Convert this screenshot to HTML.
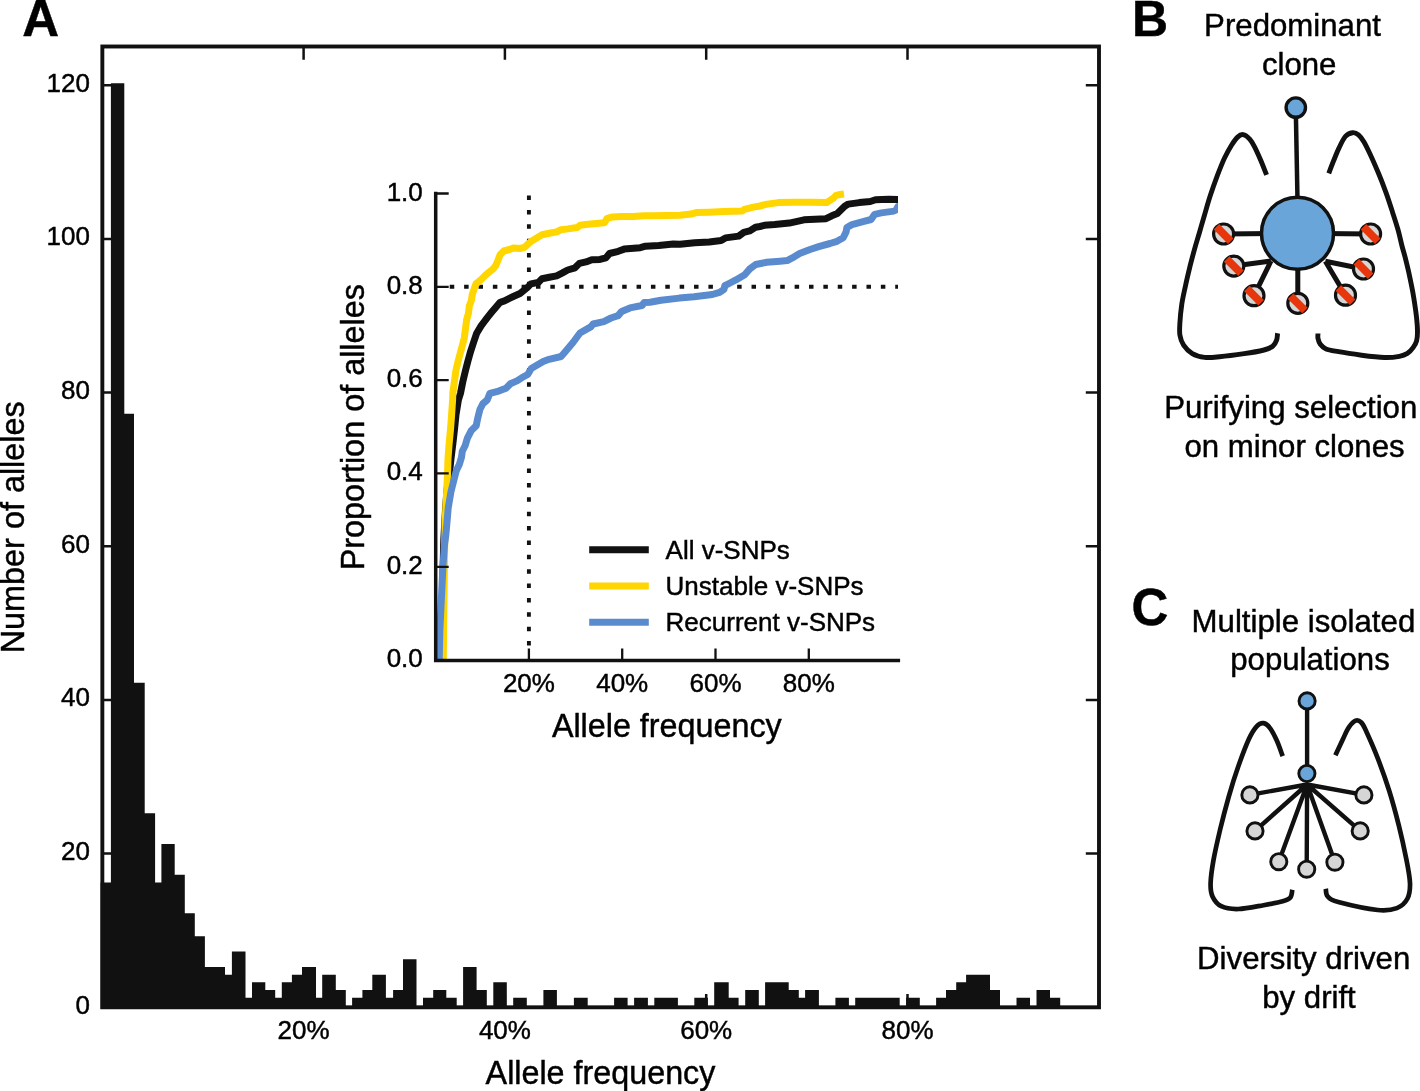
<!DOCTYPE html>
<html><head><meta charset="utf-8"><style>
html,body{margin:0;padding:0;background:#fff;}
svg{display:block;will-change:transform;}
text{font-family:"Liberation Sans", sans-serif;fill:#000;stroke:#000;stroke-width:0.45px;}
</style></head><body>
<svg width="1420" height="1091" viewBox="0 0 1420 1091">
<rect width="1420" height="1091" fill="#fff"/>
<path d="M102.35 1007.30H115.55M1099.00 1007.30H1085.80M102.35 853.62H115.55M1099.00 853.62H1085.80M102.35 699.94H115.55M1099.00 699.94H1085.80M102.35 546.26H115.55M1099.00 546.26H1085.80M102.35 392.58H115.55M1099.00 392.58H1085.80M102.35 238.90H115.55M1099.00 238.90H1085.80M102.35 85.22H115.55M1099.00 85.22H1085.80M303.60 46.50V59.70M303.60 1007.30V994.10M504.90 46.50V59.70M504.90 1007.30V994.10M706.20 46.50V59.70M706.20 1007.30V994.10M907.50 46.50V59.70M907.50 1007.30V994.10" stroke="#111111" stroke-width="2.5" fill="none"/>
<path d="M100.60 882.44H110.90V1009.1H100.60ZM110.90 83.20H124.30V1009.1H110.90ZM124.30 413.65H134.00V1009.1H124.30ZM134.00 682.63H144.70V1009.1H134.00ZM144.70 813.27H155.10V1009.1H144.70ZM155.10 882.44H161.40V1009.1H155.10ZM161.40 844.01H174.70V1009.1H161.40ZM174.70 874.75H184.80V1009.1H174.70ZM184.80 913.18H194.80V1009.1H184.80ZM194.80 936.24H204.90V1009.1H194.80ZM204.90 966.98H225.00V1009.1H204.90ZM225.00 974.66H231.90V1009.1H225.00ZM231.90 951.61H245.50V1009.1H231.90ZM245.50 997.72H252.00V1009.1H245.50ZM252.00 982.35H265.30V1009.1H252.00ZM265.30 990.03H275.20V1009.1H265.30ZM275.20 997.72H281.80V1009.1H275.20ZM281.80 982.35H291.90V1009.1H281.80ZM291.90 974.66H302.00V1009.1H291.90ZM302.00 966.98H316.00V1009.1H302.00ZM316.00 997.72H322.20V1009.1H316.00ZM322.20 974.66H335.80V1009.1H322.20ZM335.80 990.03H345.80V1009.1H335.80ZM352.10 997.72H362.40V1009.1H352.10ZM362.40 990.03H372.30V1009.1H362.40ZM372.30 974.66H385.90V1009.1H372.30ZM385.90 997.72H393.10V1009.1H385.90ZM393.10 990.03H403.00V1009.1H393.10ZM403.00 959.29H416.50V1009.1H403.00ZM423.00 997.72H433.20V1009.1H423.00ZM433.20 990.03H446.30V1009.1H433.20ZM446.30 997.72H456.70V1009.1H446.30ZM463.10 966.98H476.60V1009.1H463.10ZM476.60 990.03H486.80V1009.1H476.60ZM493.30 982.35H506.80V1009.1H493.30ZM513.20 997.72H526.80V1009.1H513.20ZM543.40 990.03H556.90V1009.1H543.40ZM573.90 997.72H587.70V1009.1H573.90ZM614.10 997.72H627.60V1009.1H614.10ZM634.10 997.72H647.90V1009.1H634.10ZM654.30 997.72H677.90V1009.1H654.30ZM694.30 997.72H707.90V1009.1H694.30ZM714.20 982.35H728.70V1009.1H714.20ZM728.70 997.72H738.60V1009.1H728.70ZM745.20 990.03H758.80V1009.1H745.20ZM765.10 982.35H788.70V1009.1H765.10ZM788.70 990.03H798.80V1009.1H788.70ZM798.80 997.72H805.10V1009.1H798.80ZM805.10 990.03H818.90V1009.1H805.10ZM835.40 997.72H848.90V1009.1H835.40ZM855.20 997.72H899.70V1009.1H855.20ZM906.10 997.72H919.80V1009.1H906.10ZM936.10 997.72H946.00V1009.1H936.10ZM946.00 990.03H956.20V1009.1H946.00ZM956.20 982.35H966.10V1009.1H956.20ZM966.10 974.66H990.00V1009.1H966.10ZM990.00 990.03H1000.00V1009.1H990.00ZM1016.50 997.72H1030.00V1009.1H1016.50ZM1036.50 990.03H1050.00V1009.1H1036.50ZM1050.00 997.72H1060.20V1009.1H1050.00Z" fill="#111111"/>
<rect x="102.35" y="46.50" width="996.65" height="960.80" fill="none" stroke="#111111" stroke-width="3.9"/>
<text x="89.90" y="1013.70" font-size="26" text-anchor="end" font-weight="normal" >0</text>
<text x="89.90" y="860.02" font-size="26" text-anchor="end" font-weight="normal" >20</text>
<text x="89.90" y="706.34" font-size="26" text-anchor="end" font-weight="normal" >40</text>
<text x="89.90" y="552.66" font-size="26" text-anchor="end" font-weight="normal" >60</text>
<text x="89.90" y="398.98" font-size="26" text-anchor="end" font-weight="normal" >80</text>
<text x="89.90" y="245.30" font-size="26" text-anchor="end" font-weight="normal" >100</text>
<text x="89.90" y="91.62" font-size="26" text-anchor="end" font-weight="normal" >120</text>
<text x="303.60" y="1039.40" font-size="26" text-anchor="middle" font-weight="normal" >20%</text>
<text x="504.90" y="1039.40" font-size="26" text-anchor="middle" font-weight="normal" >40%</text>
<text x="706.20" y="1039.40" font-size="26" text-anchor="middle" font-weight="normal" >60%</text>
<text x="907.50" y="1039.40" font-size="26" text-anchor="middle" font-weight="normal" >80%</text>
<text x="485.60" y="1084.20" font-size="32.3" text-anchor="start" font-weight="normal" >Allele frequency</text>
<text transform="translate(24.2 653.3) rotate(-90)" font-size="32.4">Number of alleles</text>
<text x="22.3" y="35.8" font-size="51" font-weight="bold">A</text>
<defs><clipPath id="iclip"><rect x="434" y="150" width="463.9" height="515"/></clipPath></defs>
<path d="M526.95 195.55h3.9v4.5h-3.9ZM526.95 209.92h3.9v4.5h-3.9ZM526.95 224.29h3.9v4.5h-3.9ZM526.95 238.66h3.9v4.5h-3.9ZM526.95 253.03h3.9v4.5h-3.9ZM526.95 267.40h3.9v4.5h-3.9ZM526.95 281.77h3.9v4.5h-3.9ZM526.95 296.14h3.9v4.5h-3.9ZM526.95 310.51h3.9v4.5h-3.9ZM526.95 324.88h3.9v4.5h-3.9ZM526.95 339.25h3.9v4.5h-3.9ZM526.95 353.62h3.9v4.5h-3.9ZM526.95 367.99h3.9v4.5h-3.9ZM526.95 382.36h3.9v4.5h-3.9ZM526.95 396.73h3.9v4.5h-3.9ZM526.95 411.10h3.9v4.5h-3.9ZM526.95 425.47h3.9v4.5h-3.9ZM526.95 439.84h3.9v4.5h-3.9ZM526.95 454.21h3.9v4.5h-3.9ZM526.95 468.58h3.9v4.5h-3.9ZM526.95 482.95h3.9v4.5h-3.9ZM526.95 497.32h3.9v4.5h-3.9ZM526.95 511.69h3.9v4.5h-3.9ZM526.95 526.06h3.9v4.5h-3.9ZM526.95 540.43h3.9v4.5h-3.9ZM526.95 554.80h3.9v4.5h-3.9ZM526.95 569.17h3.9v4.5h-3.9ZM526.95 583.54h3.9v4.5h-3.9ZM526.95 597.91h3.9v4.5h-3.9ZM526.95 612.28h3.9v4.5h-3.9ZM526.95 626.65h3.9v4.5h-3.9ZM526.95 641.02h3.9v4.5h-3.9ZM449.75 284.87h4.5v3.9h-4.5ZM464.12 284.87h4.5v3.9h-4.5ZM478.49 284.87h4.5v3.9h-4.5ZM492.86 284.87h4.5v3.9h-4.5ZM507.23 284.87h4.5v3.9h-4.5ZM521.60 284.87h4.5v3.9h-4.5ZM535.97 284.87h4.5v3.9h-4.5ZM550.34 284.87h4.5v3.9h-4.5ZM564.71 284.87h4.5v3.9h-4.5ZM579.08 284.87h4.5v3.9h-4.5ZM593.45 284.87h4.5v3.9h-4.5ZM607.82 284.87h4.5v3.9h-4.5ZM622.19 284.87h4.5v3.9h-4.5ZM636.56 284.87h4.5v3.9h-4.5ZM650.93 284.87h4.5v3.9h-4.5ZM665.30 284.87h4.5v3.9h-4.5ZM679.67 284.87h4.5v3.9h-4.5ZM694.04 284.87h4.5v3.9h-4.5ZM708.41 284.87h4.5v3.9h-4.5ZM722.78 284.87h4.5v3.9h-4.5ZM737.15 284.87h4.5v3.9h-4.5ZM751.52 284.87h4.5v3.9h-4.5ZM765.89 284.87h4.5v3.9h-4.5ZM780.26 284.87h4.5v3.9h-4.5ZM794.63 284.87h4.5v3.9h-4.5ZM809.00 284.87h4.5v3.9h-4.5ZM823.37 284.87h4.5v3.9h-4.5ZM837.74 284.87h4.5v3.9h-4.5ZM852.11 284.87h4.5v3.9h-4.5ZM866.48 284.87h4.5v3.9h-4.5ZM880.85 284.87h4.5v3.9h-4.5ZM895.22 284.87h4.5v3.9h-4.5Z" fill="#111111" clip-path="url(#iclip)"/>
<g clip-path="url(#iclip)">
<polyline points="441.5,659.5 442.0,620.0 442.8,580.0 443.8,540.0 445.5,510.0 447.0,490.0 448.3,480.0 449.5,473.0 451.0,458.7 452.8,444.0 454.5,429.3 456.0,414.7 458.4,400.0 460.5,393.3 462.7,382.3 465.3,371.3 467.9,361.1 470.8,350.8 473.7,342.0 476.7,333.2 481.1,325.9 485.5,320.0 488.5,316.2 492.0,311.8 495.7,307.4 500.1,302.3 504.5,300.9 510.4,297.9 513.3,296.5 520.0,293.5 527.3,287.6 531.0,283.9 538.3,282.4 542.0,278.8 549.3,277.3 556.7,275.9 562.5,272.9 567.7,270.0 575.0,267.8 579.4,263.4 586.0,261.9 591.8,259.7 600.0,259.4 605.9,257.9 609.5,253.5 618.3,251.3 624.2,249.1 640.3,247.7 645.5,246.2 658.7,245.5 673.3,244.0 680.0,244.3 694.7,242.7 709.3,241.9 721.1,240.5 725.5,237.9 738.7,236.1 743.8,232.4 749.6,230.9 755.5,227.3 760.0,226.5 764.4,225.3 774.7,224.6 789.3,223.1 804.0,219.8 826.0,218.7 831.8,215.8 837.3,213.6 844.7,206.3 848.3,204.1 859.3,202.6 870.3,201.5 875.5,199.7 888.7,199.3 905.0,199.5" fill="none" stroke="#111111" stroke-width="7.0" stroke-linejoin="round" stroke-linecap="butt"/>
<polyline points="443.3,659.5 443.6,630.0 444.0,600.0 444.4,567.0 444.8,540.0 445.0,524.5 445.8,508.0 446.7,491.5 447.5,475.0 448.0,458.7 449.1,444.0 450.5,429.3 451.6,414.7 452.6,400.0 452.8,393.3 454.3,382.3 455.8,371.3 458.3,360.3 461.3,349.3 464.2,338.3 465.7,327.3 466.6,320.0 468.6,312.6 469.3,306.0 471.5,300.1 472.3,294.3 474.1,289.1 475.9,284.0 481.1,279.6 486.2,274.5 492.8,269.3 495.7,265.7 497.9,260.5 500.1,254.7 503.8,251.0 509.6,249.5 513.3,248.1 520.0,248.5 524.4,247.3 531.0,241.4 538.3,237.0 542.0,234.8 549.3,233.3 556.7,231.9 561.1,229.7 567.7,228.9 577.2,227.5 580.1,225.3 586.0,224.5 593.3,223.8 604.4,222.7 607.3,218.3 612.5,216.9 622.0,216.5 633.0,216.5 644.0,215.8 651.3,215.8 666.0,215.4 680.0,215.3 691.0,214.1 696.1,212.6 709.3,212.2 724.0,211.5 742.3,211.1 744.5,209.3 753.3,207.1 760.0,206.0 767.3,204.1 778.3,202.6 795.2,202.2 811.3,202.2 826.7,202.6 833.3,198.2 836.2,195.3 840.0,194.5 844.0,194.0" fill="none" stroke="#FFD600" stroke-width="7.0" stroke-linejoin="round" stroke-linecap="butt"/>
<polyline points="439.2,659.5 439.9,629.0 441.1,604.3 442.9,567.1 444.5,545.0 445.8,535.0 446.8,524.5 448.2,508.0 451.0,491.5 455.2,475.0 456.4,470.4 459.3,464.5 461.5,457.2 462.3,451.3 465.2,445.5 467.4,438.1 471.1,430.8 476.2,425.7 477.7,418.3 479.9,409.5 482.8,403.7 487.2,400.0 489.9,393.3 498.7,391.1 506.0,388.2 510.4,383.8 517.0,380.9 521.7,377.8 527.7,374.5 531.3,368.5 537.2,365.0 543.2,361.5 549.1,359.3 561.1,356.5 564.6,352.5 573.0,342.5 580.0,333.0 590.7,326.9 593.1,324.0 603.8,321.6 611.0,318.0 618.1,315.6 621.7,311.4 630.0,307.9 642.0,305.5 644.3,302.5 650.0,302.3 661.0,300.3 679.3,298.1 694.0,296.7 712.3,294.5 719.6,292.3 724.0,289.3 724.8,285.7 730.0,283.0 735.9,279.9 744.7,274.7 749.8,268.9 755.7,264.5 766.7,262.3 780.0,261.3 787.2,260.6 792.3,257.9 799.6,253.5 810.0,249.5 818.7,246.6 830.0,243.5 837.0,241.3 843.2,237.8 846.1,231.9 846.9,227.5 852.0,224.6 863.0,221.7 871.1,219.5 874.7,214.3 881.3,212.9 892.3,211.4 896.0,209.9 898.0,206.5 905.0,205.0" fill="none" stroke="#5A8BCF" stroke-width="7.0" stroke-linejoin="round" stroke-linecap="butt"/>
</g>
<path d="M435.70 191.80V660.40H900.1" stroke="#111111" stroke-width="3.5" fill="none"/>
<path d="M435.70 660.10H448.70M435.70 566.78H448.70M435.70 473.46H448.70M435.70 380.14H448.70M435.70 286.82H448.70M435.70 193.50H448.70M528.90 660.40V648.40M622.20 660.40V648.40M715.50 660.40V648.40M808.80 660.40V648.40" stroke="#111111" stroke-width="2.3" fill="none"/>
<text x="422.80" y="667.10" font-size="26" text-anchor="end" font-weight="normal" >0.0</text>
<text x="422.80" y="573.78" font-size="26" text-anchor="end" font-weight="normal" >0.2</text>
<text x="422.80" y="480.46" font-size="26" text-anchor="end" font-weight="normal" >0.4</text>
<text x="422.80" y="387.14" font-size="26" text-anchor="end" font-weight="normal" >0.6</text>
<text x="422.80" y="293.82" font-size="26" text-anchor="end" font-weight="normal" >0.8</text>
<text x="422.80" y="200.50" font-size="26" text-anchor="end" font-weight="normal" >1.0</text>
<text x="528.90" y="692.20" font-size="26" text-anchor="middle" font-weight="normal" >20%</text>
<text x="622.20" y="692.20" font-size="26" text-anchor="middle" font-weight="normal" >40%</text>
<text x="715.50" y="692.20" font-size="26" text-anchor="middle" font-weight="normal" >60%</text>
<text x="808.80" y="692.20" font-size="26" text-anchor="middle" font-weight="normal" >80%</text>
<text x="551.90" y="737.40" font-size="32.3" text-anchor="start" font-weight="normal" >Allele frequency</text>
<text transform="translate(363.9 570.3) rotate(-90)" font-size="32.4">Proportion of alleles</text>
<path d="M589.2 549.70H648.8" stroke="#111111" stroke-width="7"/>
<text x="665.60" y="558.80" font-size="26" text-anchor="start" font-weight="normal" >All v-SNPs</text>
<path d="M589.2 585.95H648.8" stroke="#FFD600" stroke-width="7"/>
<text x="665.60" y="595.05" font-size="26" text-anchor="start" font-weight="normal" >Unstable v-SNPs</text>
<path d="M589.2 622.20H648.8" stroke="#5A8BCF" stroke-width="7"/>
<text x="665.60" y="631.30" font-size="26" text-anchor="start" font-weight="normal" >Recurrent v-SNPs</text>
<text x="1131.9" y="35.9" font-size="50" font-weight="bold">B</text>
<text x="1204.10" y="36.40" font-size="31.2" text-anchor="start" font-weight="normal" >Predominant</text>
<text x="1261.90" y="74.50" font-size="31.2" text-anchor="start" font-weight="normal" >clone</text>
<text x="1164.20" y="417.60" font-size="31.2" text-anchor="start" font-weight="normal" >Purifying selection</text>
<text x="1184.50" y="456.60" font-size="31.2" text-anchor="start" font-weight="normal" >on minor clones</text>
<path d="M1266.6,174.9 C1265.6,172.5 1262.7,164.9 1260.7,160.3 C1258.7,155.7 1256.5,150.7 1254.7,147.2 C1252.9,143.7 1251.6,141.2 1249.7,139.1 C1247.8,137.0 1245.1,134.9 1243.1,134.6 C1241.1,134.3 1239.5,135.3 1237.6,137.1 C1235.7,138.9 1233.7,141.7 1231.5,145.2 C1229.3,148.7 1226.8,153.3 1224.4,158.3 C1222.1,163.3 1219.8,169.2 1217.4,175.4 C1215.1,181.6 1212.5,188.9 1210.3,195.6 C1208.1,202.3 1206.1,209.6 1204.3,215.7 C1202.5,221.8 1201.2,226.5 1199.6,232.0 C1198.0,237.5 1196.3,242.8 1194.7,248.6 C1193.1,254.4 1191.3,260.9 1189.8,267.1 C1188.3,273.3 1186.8,279.5 1185.5,285.7 C1184.2,291.9 1182.7,298.0 1181.8,304.2 C1180.9,310.4 1180.2,317.6 1179.9,322.8 C1179.6,328.0 1179.3,331.5 1179.9,335.2 C1180.5,338.9 1181.5,342.0 1183.6,345.1 C1185.7,348.2 1188.8,351.6 1192.3,353.7 C1195.8,355.8 1200.1,356.9 1204.6,357.4 C1209.1,357.9 1212.9,357.4 1219.5,356.8 C1226.1,356.2 1236.8,354.8 1244.2,353.7 C1251.6,352.6 1259.2,351.2 1264.0,350.0 C1268.8,348.8 1270.6,347.9 1272.7,346.3 C1274.8,344.7 1275.8,342.3 1276.6,340.1 C1277.4,337.9 1277.4,334.4 1277.6,333.3" fill="none" stroke="#111111" stroke-width="4.9"/>
<path d="M1328.8,173.4 C1329.5,171.5 1331.5,165.9 1333.2,161.8 C1334.9,157.7 1336.7,152.8 1338.7,148.6 C1340.7,144.4 1343.0,139.2 1345.3,136.5 C1347.6,133.8 1350.3,133.0 1352.5,132.7 C1354.7,132.4 1356.6,133.3 1358.5,134.9 C1360.4,136.5 1362.0,138.6 1364.0,142.0 C1366.0,145.4 1368.2,150.1 1370.6,155.2 C1373.0,160.3 1375.7,166.6 1378.3,172.8 C1380.9,179.0 1383.6,186.0 1386.0,192.6 C1388.4,199.2 1390.6,206.2 1392.6,212.4 C1394.6,218.6 1396.5,224.4 1398.1,230.0 C1399.7,235.6 1400.8,241.5 1402.0,246.0 C1403.2,250.5 1403.8,252.1 1405.1,257.2 C1406.4,262.3 1408.3,270.0 1409.7,276.7 C1411.1,283.4 1412.6,290.4 1413.7,297.3 C1414.8,304.2 1416.0,312.2 1416.6,317.9 C1417.2,323.6 1417.5,327.9 1417.5,331.7 C1417.5,335.5 1417.3,338.1 1416.6,340.8 C1415.9,343.5 1414.6,345.6 1413.1,347.7 C1411.6,349.8 1409.7,352.0 1407.4,353.4 C1405.1,354.8 1403.2,355.6 1399.4,356.3 C1395.6,357.0 1390.8,357.7 1384.5,357.5 C1378.2,357.3 1369.2,356.2 1361.6,355.2 C1353.9,354.2 1344.5,352.8 1338.6,351.7 C1332.7,350.6 1329.0,350.1 1326.0,348.9 C1323.0,347.7 1321.6,346.0 1320.3,344.3 C1319.0,342.6 1318.4,340.3 1318.0,338.5 C1317.6,336.7 1318.0,334.2 1318.0,333.4" fill="none" stroke="#111111" stroke-width="4.9"/>
<path d="M1295.8 110 L1297.5 200" stroke="#111111" stroke-width="4.5"/>
<path d="M1297.5 233.3L1223.6 234M1271 261L1233.8 266.1M1271 261L1254 295.7M1297.8 260L1297.8 303.3M1325.3 261.3L1345.5 295.2M1325.3 261.3L1363.5 269M1297.5 233.3L1370.6 234" stroke="#111111" stroke-width="5"/>
<circle cx="1295.8" cy="107.6" r="9.7" fill="#69A5D8" stroke="#111111" stroke-width="3.4"/>
<circle cx="1297.5" cy="233.3" r="36.0" fill="#69A5D8" stroke="#111111" stroke-width="3.5"/>
<circle cx="1223.6" cy="234" r="10.0" fill="#D6D6D6" stroke="#111111" stroke-width="3.2"/>
<rect x="1213.50" y="230.10" width="20.2" height="7.8" fill="#E8360C" transform="rotate(45 1223.6 234)"/>
<circle cx="1233.8" cy="266.1" r="10.0" fill="#D6D6D6" stroke="#111111" stroke-width="3.2"/>
<rect x="1223.70" y="262.20" width="20.2" height="7.8" fill="#E8360C" transform="rotate(45 1233.8 266.1)"/>
<circle cx="1254" cy="295.7" r="10.0" fill="#D6D6D6" stroke="#111111" stroke-width="3.2"/>
<rect x="1243.90" y="291.80" width="20.2" height="7.8" fill="#E8360C" transform="rotate(45 1254 295.7)"/>
<circle cx="1297.8" cy="303.3" r="10.0" fill="#D6D6D6" stroke="#111111" stroke-width="3.2"/>
<rect x="1287.70" y="299.40" width="20.2" height="7.8" fill="#E8360C" transform="rotate(45 1297.8 303.3)"/>
<circle cx="1345.5" cy="295.2" r="10.0" fill="#D6D6D6" stroke="#111111" stroke-width="3.2"/>
<rect x="1335.40" y="291.30" width="20.2" height="7.8" fill="#E8360C" transform="rotate(45 1345.5 295.2)"/>
<circle cx="1363.5" cy="269" r="10.0" fill="#D6D6D6" stroke="#111111" stroke-width="3.2"/>
<rect x="1353.40" y="265.10" width="20.2" height="7.8" fill="#E8360C" transform="rotate(45 1363.5 269)"/>
<circle cx="1370.6" cy="234" r="10.0" fill="#D6D6D6" stroke="#111111" stroke-width="3.2"/>
<rect x="1360.50" y="230.10" width="20.2" height="7.8" fill="#E8360C" transform="rotate(45 1370.6 234)"/>
<text x="1131.5" y="625" font-size="51" font-weight="bold">C</text>
<text x="1191.60" y="632.30" font-size="31.2" text-anchor="start" font-weight="normal" >Multiple isolated</text>
<text x="1230.20" y="669.50" font-size="31.2" text-anchor="start" font-weight="normal" >populations</text>
<text x="1197.10" y="969.10" font-size="31.2" text-anchor="start" font-weight="normal" >Diversity driven</text>
<text x="1262.20" y="1007.50" font-size="31.2" text-anchor="start" font-weight="normal" >by drift</text>
<path d="M1282.7,756.2 C1281.7,753.6 1279.0,745.4 1276.9,740.8 C1274.8,736.1 1272.4,731.2 1270.2,728.3 C1268.0,725.3 1265.8,723.4 1263.5,723.1 C1261.2,722.8 1259.1,723.7 1256.7,726.3 C1254.3,728.9 1252.0,732.2 1249.0,738.8 C1246.0,745.4 1241.9,756.2 1238.5,765.8 C1235.1,775.4 1231.8,785.9 1228.8,796.5 C1225.8,807.1 1222.8,818.6 1220.2,829.2 C1217.7,839.8 1215.1,851.0 1213.5,860.0 C1211.9,869.0 1210.8,877.0 1210.6,883.1 C1210.4,889.2 1210.7,892.6 1212.5,896.5 C1214.3,900.4 1216.9,904.1 1221.2,906.2 C1225.5,908.3 1231.5,909.2 1238.5,909.0 C1245.5,908.8 1256.1,906.5 1263.5,905.2 C1270.9,903.9 1278.2,902.6 1282.7,901.3 C1287.2,900.0 1288.8,899.4 1290.4,897.5 C1292.0,895.6 1292.0,891.1 1292.3,889.8" fill="none" stroke="#111111" stroke-width="4.7"/>
<path d="M1335.4,755.2 C1336.7,752.5 1340.9,743.4 1343.1,738.8 C1345.3,734.1 1346.7,730.3 1348.8,727.3 C1350.9,724.3 1353.5,721.4 1355.6,720.6 C1357.7,719.8 1359.5,720.7 1361.3,722.5 C1363.1,724.3 1363.5,725.3 1366.2,731.2 C1368.9,737.1 1373.9,748.2 1377.7,758.1 C1381.5,768.0 1385.7,779.6 1389.2,790.8 C1392.7,802.0 1395.9,813.9 1398.8,825.4 C1401.7,836.9 1404.6,850.4 1406.5,860.0 C1408.4,869.6 1409.8,876.7 1410.0,883.1 C1410.2,889.5 1409.7,894.3 1407.5,898.5 C1405.3,902.7 1401.9,906.2 1396.9,908.1 C1391.9,910.0 1387.3,911.0 1377.7,910.0 C1368.1,909.0 1347.5,904.5 1339.2,902.3 C1330.9,900.0 1329.9,898.8 1327.7,896.5 C1325.5,894.2 1326.1,890.1 1325.8,888.8" fill="none" stroke="#111111" stroke-width="4.7"/>
<path d="M1307.1 701L1307.1 775M1307.1 784.5L1249.9 794.9M1307.1 784.5L1363.9 794.9M1307.1 784.5L1255 830.9M1307.1 784.5L1360.2 830.9M1307.1 784.5L1278.8 861.7M1307.1 784.5L1306.7 869.2M1307.1 784.5L1334.9 862.2" stroke="#111111" stroke-width="4.4" stroke-linecap="round"/>
<circle cx="1307.1" cy="700.9" r="8.1" fill="#69A5D8" stroke="#111111" stroke-width="2.9"/>
<circle cx="1306.9" cy="773.5" r="8.1" fill="#69A5D8" stroke="#111111" stroke-width="2.9"/>
<circle cx="1249.9" cy="794.9" r="8.1" fill="#D6D6D6" stroke="#111111" stroke-width="2.9"/>
<circle cx="1363.9" cy="794.9" r="8.1" fill="#D6D6D6" stroke="#111111" stroke-width="2.9"/>
<circle cx="1255" cy="830.9" r="8.1" fill="#D6D6D6" stroke="#111111" stroke-width="2.9"/>
<circle cx="1360.2" cy="830.9" r="8.1" fill="#D6D6D6" stroke="#111111" stroke-width="2.9"/>
<circle cx="1278.8" cy="861.7" r="8.1" fill="#D6D6D6" stroke="#111111" stroke-width="2.9"/>
<circle cx="1306.7" cy="869.2" r="8.1" fill="#D6D6D6" stroke="#111111" stroke-width="2.9"/>
<circle cx="1334.9" cy="862.2" r="8.1" fill="#D6D6D6" stroke="#111111" stroke-width="2.9"/>
</svg>
</body></html>
